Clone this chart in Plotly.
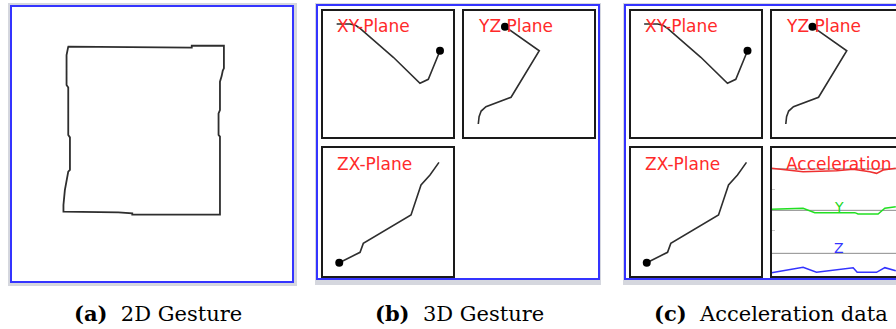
import plotly.graph_objects as go

W, H = 896, 329

# ---------------- data (units: 0-100 inside each box) ----------------
# (a) 2D gesture path
gesture2d_x = [20.1, 64.1, 64.1, 75.5, 75.5, 75.1, 74.7, 74.1, 74.1, 73.6, 73.6, 74.1, 74.1,
               43.0, 43.0, 38.1, 18.6, 18.6, 19.1, 19.7, 20.3, 20.9, 20.9, 20.3, 20.3, 19.7, 19.7, 20.3]
gesture2d_y = [85.3, 84.9, 85.6, 85.6, 77.4, 76.6, 74.6, 72.6, 62.3, 61.1, 53.3, 52.7, 24.4,
               24.4, 24.9, 25.2, 25.5, 27.9, 33.3, 37.0, 40.0, 40.6, 52.4, 53.3, 70.5, 71.4, 82.2, 85.3]

# (b)/(c) 3D gesture projections
xy_x = [10.5, 20.8, 25.0, 28.5, 54.1, 74.6, 81.0, 90.0]
xy_y = [89.3, 89.3, 88.3, 85.9, 63.0, 42.5, 45.6, 68.2]
xy_dot = (90.0, 68.2)

yz_x = [31.5, 57.9, 36.2, 16.9, 13.2, 11.6, 11.0]
yz_y = [87.2, 68.2, 31.4, 24.0, 20.5, 16.0, 10.3]
yz_dot = (31.5, 87.2)

zx_x = [12.5, 28.5, 31.0, 67.7, 75.4, 82.3, 89.2]
zx_y = [10.4, 18.5, 25.5, 47.7, 71.1, 78.9, 88.8]
zx_dot = (12.5, 10.4)

# (c) acceleration traces
acc_x_t = [0, 11.5, 24.3, 50.0, 62.8, 75.6, 80.8, 85.9, 95.6]
acc_x_v = [84.1, 82.8, 81.5, 82.3, 83.4, 81.5, 80.2, 82.8, 84.1]
acc_y_t = [0, 24.3, 33.3, 64.1, 66.6, 82.0, 87.2, 95.6]
acc_y_v = [52.1, 52.9, 49.5, 49.5, 48.4, 48.4, 52.9, 54.1]
acc_z_t = [0, 24.3, 34.6, 62.8, 65.9, 80.8, 87.2, 95.6]
acc_z_v = [2.6, 6.8, 2.9, 6.5, 2.9, 2.9, 6.5, 4.1]
acc_baselines = [83.7, 51.3, 17.7]
acc_ticks = [35.4, 67.2]

plane_labels = ["XY-Plane", "YZ Plane", "ZX-Plane", "Acceleration"]
captions = [("(a)", "2D Gesture"), ("(b)", "3D Gesture"), ("(c)", "Acceleration data")]

# ---------------- layout helpers ----------------
def px(x):
    return x / W

def py(y):
    return 1 - y / H

def dom_x(x0, x1):
    return [max(0, px(x0)), min(1, px(x1))]

def dom_y(y0, y1):
    return [max(0, py(y1)), min(1, py(y0))]

BOX_W = 130.0  # px per 100 units horizontally for sub boxes

# axis id -> (x0, x1, y0, y1, style)   style: none / full / open (no right edge)
axes_def = {
    1: (11, 293, 6, 282, "none"),
    2: (323, 453, 10.5, 137, "full"),
    3: (464, 594, 10.5, 137, "full"),
    4: (323, 453, 148, 276, "full"),
    5: (630.5, 760.5, 10.5, 137, "full"),
    6: (771.5, 896, 10.5, 137, "open"),
    7: (630.5, 760.5, 148, 276, "full"),
    8: (771.5, 896, 148, 276, "open"),
}

fig = go.Figure()
layout = dict(
    width=W, height=H, margin=dict(l=0, r=0, t=0, b=0),
    paper_bgcolor="white", plot_bgcolor="rgba(0,0,0,0)",
    showlegend=False, shapes=[], annotations=[],
)

BOXLINE = "#1a1a1a"
for i, (x0, x1, y0, y1, style) in axes_def.items():
    xs = "xaxis" if i == 1 else f"xaxis{i}"
    ys = "yaxis" if i == 1 else f"yaxis{i}"
    xr = [0, 100] if style != "open" else [0, (x1 - x0) / BOX_W * 100]
    common = dict(showgrid=False, zeroline=False, showticklabels=False, ticks="",
                  fixedrange=True)
    if style == "none":
        layout[xs] = dict(domain=dom_x(x0, x1), range=xr, visible=False,
                          anchor="y" if i == 1 else f"y{i}", **common)
        layout[ys] = dict(domain=dom_y(y0, y1), range=[0, 100], visible=False,
                          anchor="x" if i == 1 else f"x{i}", **common)
    else:
        layout[xs] = dict(domain=dom_x(x0, x1), range=xr, showline=True, mirror=True,
                          linecolor=BOXLINE, linewidth=2, anchor=f"y{i}", **common)
        ydict = dict(domain=dom_y(y0, y1), range=[0, 100], showline=True,
                     mirror=(style == "full"), linecolor=BOXLINE, linewidth=2,
                     anchor=f"x{i}", **common)
        layout[ys] = ydict

# acceleration box: faint inside ticks on the left
layout["yaxis8"].update(ticks="inside", tickvals=acc_ticks, ticklen=3,
                        tickcolor="#c8c8c8", tickwidth=1)

# ---------------- frames (window chrome) ----------------
GRAY = "#d5d7de"
BLUE = "#3434ff"
frames = [
    ((8, 297, 3, 286), (11, 293, 6, 282)),
    ((315, 601, 3, 285), (317, 599, 5, 279)),
    ((623, 905, 3, 285), (625, 910, 5, 279)),
]
for (gx0, gx1, gy0, gy1), (bx0, bx1, by0, by1) in frames:
    layout["shapes"].append(dict(type="rect", xref="paper", yref="paper",
                                 x0=px(gx0), x1=px(gx1), y0=py(gy1), y1=py(gy0),
                                 fillcolor=GRAY, line=dict(width=0), layer="below"))
    layout["shapes"].append(dict(type="rect", xref="paper", yref="paper",
                                 x0=px(bx0), x1=px(bx1), y0=py(by1), y1=py(by0),
                                 fillcolor="white", line=dict(color=BLUE, width=2),
                                 layer="below"))

# ---------------- traces ----------------
LINE = "#2e2e2e"

def ax_ref(i):
    return ("x", "y") if i == 1 else (f"x{i}", f"y{i}")

def path(i, xs, ys, color=LINE, width=1.6):
    xa, ya = ax_ref(i)
    fig.add_trace(go.Scatter(x=xs, y=ys, mode="lines", xaxis=xa, yaxis=ya,
                             line=dict(color=color, width=width), hoverinfo="skip"))

def dot(i, pt):
    xa, ya = ax_ref(i)
    fig.add_trace(go.Scatter(x=[pt[0]], y=[pt[1]], mode="markers", xaxis=xa, yaxis=ya,
                             marker=dict(color="black", size=8), cliponaxis=False,
                             hoverinfo="skip"))

# (a)
path(1, gesture2d_x, gesture2d_y, width=1.8)

# (b) and (c) share the same gesture
for ixy, iyz, izx in [(2, 3, 4), (5, 6, 7)]:
    path(ixy, xy_x, xy_y)
    dot(ixy, xy_dot)
    path(iyz, yz_x, yz_y)
    dot(iyz, yz_dot)
    path(izx, zx_x, zx_y)
    dot(izx, zx_dot)

# acceleration
xa, ya = ax_ref(8)
for b in acc_baselines:
    fig.add_trace(go.Scatter(x=[0, 100], y=[b, b], mode="lines", xaxis=xa, yaxis=ya,
                             line=dict(color="#8c8c8c", width=1), hoverinfo="skip"))
path(8, acc_x_t, acc_x_v, color="#ee3030", width=1.5)
path(8, acc_y_t, acc_y_v, color="#22e022", width=1.5)
path(8, acc_z_t, acc_z_v, color="#3333ff", width=1.5)

# ---------------- labels ----------------
RED = "#ff2a2a"
label_font = dict(family="DejaVu Sans", size=17, color=RED)
for i, txt in [(2, plane_labels[0]), (3, plane_labels[1]), (4, plane_labels[2]),
               (5, plane_labels[0]), (6, plane_labels[1]), (7, plane_labels[2]),
               (8, plane_labels[3])]:
    xa, ya = ax_ref(i)
    layout["annotations"].append(dict(x=9.5, y=87.8, xref=xa, yref=ya, text=txt,
                                      showarrow=False, xanchor="left", yanchor="middle",
                                      font=label_font))

layout["annotations"].append(dict(x=52.2, y=54.1, xref="x8", yref="y8", text="Y",
                                  showarrow=False, xanchor="center", yanchor="middle",
                                  font=dict(family="DejaVu Sans", size=14, color="#22d822")))
layout["annotations"].append(dict(x=52.2, y=21.6, xref="x8", yref="y8", text="Z",
                                  showarrow=False, xanchor="center", yanchor="middle",
                                  font=dict(family="DejaVu Sans", size=14, color="#3333ff")))

caption_centers = [158, 460, 771]
for (tag, txt), cx in zip(captions, caption_centers):
    layout["annotations"].append(dict(x=px(cx), y=py(313.5), xref="paper", yref="paper",
                                      text=f"<b>{tag}</b>  {txt}", showarrow=False,
                                      xanchor="center", yanchor="middle",
                                      font=dict(family="DejaVu Serif", size=21, color="black")))

fig.update_layout(**layout)
fig.write_html("out.html", config={"displayModeBar": False, "staticPlot": True},
               post_script="document.body.style.margin='0px';document.body.style.overflow='hidden';")
